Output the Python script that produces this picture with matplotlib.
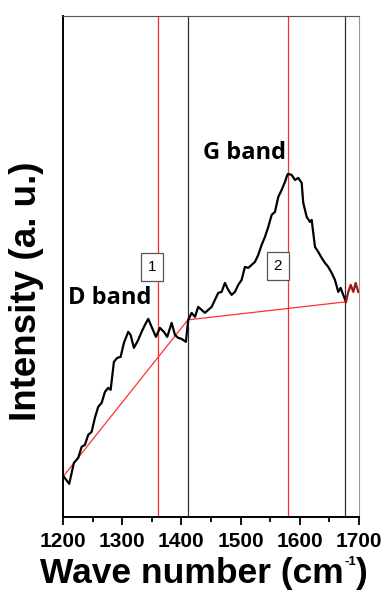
import numpy as np
import matplotlib
matplotlib.use("Agg")
import matplotlib.pyplot as plt

# Raman spectrum (intensity in arbitrary units)
wave = [1201.7, 1210.6, 1218.6, 1225.8, 1231.6, 1237.2, 1242.7, 1248.5, 1254.0, 1259.6,
        1265.4, 1271.0, 1276.5, 1280.6, 1286.1, 1291.7, 1297.5, 1303.0, 1310.3, 1314.3,
        1319.9, 1327.2, 1332.9, 1338.5, 1344.1, 1349.8, 1357.1, 1363.8, 1370.6, 1376.2,
        1383.6, 1389.2, 1394.7, 1400.5, 1407.7, 1411.6, 1417.4, 1423.0, 1428.5, 1434.3,
        1439.8, 1445.4, 1451.2, 1456.7, 1462.3, 1468.0, 1473.6, 1479.2, 1484.9, 1490.5,
        1496.1, 1501.8, 1507.4, 1513.0, 1518.7, 1524.3, 1529.9, 1535.6, 1541.2, 1546.8,
        1552.5, 1558.1, 1563.7, 1569.4, 1575.0, 1578.9, 1580.5, 1586.3, 1591.9, 1597.5,
        1603.2, 1605.9, 1611.7, 1617.2, 1620.1, 1625.7, 1631.2, 1637.0, 1642.5, 1648.1,
        1653.8, 1659.4, 1665.0, 1669.0, 1673.4, 1678.0]
intensity = [40, 33, 54, 59, 70, 72, 82, 85, 99, 110,
             114, 125, 129, 127, 155, 159, 160, 174, 185, 182,
             169, 177, 185, 192, 198, 190, 180, 189, 185, 180,
             194, 182, 179, 178, 175, 197, 204, 200, 210, 207,
             204, 207, 210, 217, 224, 225, 234, 227, 222, 225,
             232, 237, 250, 249, 252, 255, 262, 272, 280, 290,
             302, 305, 320, 327, 335, 342, 343, 342, 337, 339,
             334, 314, 300, 295, 297, 270, 265, 259, 254, 250,
             244, 237, 225, 229, 222, 215]

# part beyond the fitting window (drawn dark red)
tail_wave = [1678.0, 1681.9, 1686.0, 1690.4, 1694.4, 1698.8]
tail_int = [215, 225, 232, 225, 234, 225]

# linear background and markers
base_x = [1200, 1411, 1677]
base_y = [40, 197, 215]
red_lines = [1360, 1580]
black_lines = [1411, 1677]

plt.rcParams["font.family"] = ["Liberation Sans", "DejaVu Sans"]

fig = plt.figure(figsize=(3.86, 5.92), dpi=100)
ax = fig.add_axes([0.163, 0.127, 0.767, 0.846])

for x in red_lines:
    ax.axvline(x, color="#ff2a2a", lw=0.9, zorder=1)
for x in black_lines:
    ax.axvline(x, color="#333333", lw=0.9, zorder=1)

ax.plot(base_x, base_y, color="#ff3030", lw=0.9, zorder=2)
ax.plot(wave, intensity, color="black", lw=1.6, zorder=3)
ax.plot(tail_wave, tail_int, color="#a01818", lw=1.6, zorder=3)

txt = dict(fontfamily="Open Sans", fontweight="bold", fontsize=17, ha="center", va="center")
ax.text(1279, 219, "D band", **txt)
ax.text(1506, 364, "G band", **txt)

box = dict(boxstyle="square,pad=0.45", fc="white", ec="#555555", lw=0.9)
ax.text(1350, 250, "1", fontsize=11, ha="center", va="center", bbox=box, zorder=4)
ax.text(1563, 251, "2", fontsize=11, ha="center", va="center", bbox=box, zorder=4)

ax.set_xlim(1200, 1700)
ax.set_ylim(0, 501)
ax.set_xticks([1200, 1300, 1400, 1500, 1600, 1700])
ax.set_xticks(np.arange(1250, 1700, 100), minor=True)
ax.set_yticks([])
ax.tick_params(axis="x", which="major", direction="out", length=6, width=1.3,
               labelsize=15, pad=5)
ax.tick_params(axis="x", which="minor", direction="out", length=3.5, width=1.3)
for lab in ax.get_xticklabels():
    lab.set_fontweight("bold")

ax.spines["left"].set_linewidth(1.4)
ax.spines["bottom"].set_linewidth(1.4)
ax.spines["top"].set_color("#555555")
ax.spines["right"].set_color("#999999")

# x label with a small superscript, built from three texts
t1 = fig.text(40 / 386, 1 - 583 / 592, "Wave number (cm", fontsize=25.5,
              fontweight="bold", ha="left", va="baseline")
t2 = ax.annotate("-1", xy=(1, 1), xycoords=t1, xytext=(0.5, 1), textcoords="offset points",
                 fontsize=9.5, fontweight="bold", ha="left", va="top", annotation_clip=False)
ax.annotate(")", xy=(1, 0), xycoords=(t2, t1), fontsize=25.5, fontweight="bold",
            ha="left", va="bottom", annotation_clip=False)

fig.text(27 / 386, 1 - 291 / 592, "Intensity (a. u.)", fontsize=26.5, fontweight="bold",
         rotation=90, ha="center", va="center")

fig.savefig("out.png", dpi=100)
